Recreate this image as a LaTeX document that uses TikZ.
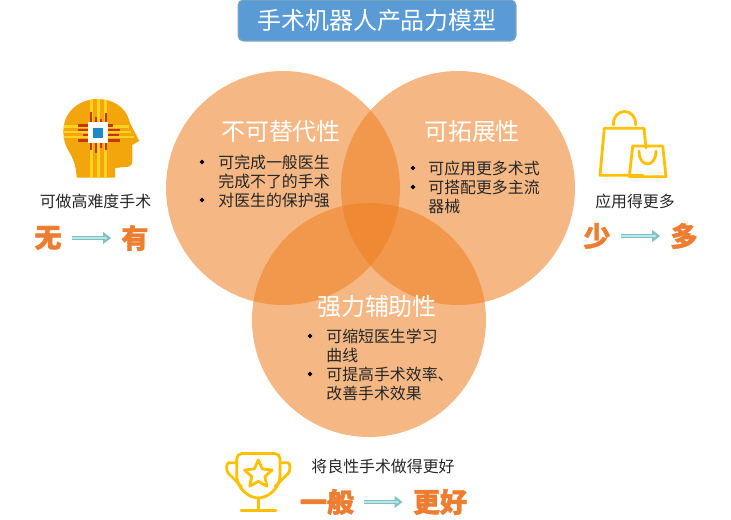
\documentclass[tikz,border=0pt]{standalone}
\usepackage{fontspec}
\setmainfont{Noto Sans CJK SC}
\newfontfamily\heavyfont[BoldFeatures={FakeBold=1.6}]{Noto Sans CJK SC}
\usetikzlibrary{arrows.meta,shapes.geometric}

\definecolor{titleblue}{HTML}{5B9BD5}
\definecolor{titleedge}{HTML}{7FA5B8}
\definecolor{vennorange}{HTML}{ED7D1F}
\definecolor{bigorange}{HTML}{ED7D31}
\definecolor{gold}{HTML}{FFC000}
\definecolor{headgold}{HTML}{F2A60C}
\definecolor{bandgold}{HTML}{FFD21F}
\definecolor{pinred}{HTML}{C8340F}
\definecolor{chipblue}{HTML}{1E88C8}
\definecolor{flowedge}{HTML}{7CC4C2}
\definecolor{flowfill}{HTML}{BFE4E4}
\definecolor{bodygray}{HTML}{262626}

\tikzset{
  venn/.style={fill=vennorange, fill opacity=0.55},
  heading/.style={text=white, font=\fontsize{13.65}{15}\selectfont},
  body/.style={anchor=west, inner sep=0pt, text=bodygray, font=\fontsize{9.05}{10}\selectfont},
  caption/.style={inner sep=0pt, text=bodygray, font=\fontsize{9.05}{10}\selectfont},
  big/.style={inner sep=0pt, text=bigorange, font=\fontsize{15.4}{17}\selectfont\heavyfont\bfseries},
  flow/.style={line width=2.8pt, draw=flowedge, shorten <=0.2cm, shorten >=0.2cm,
    -{Triangle[length=4.5pt,width=6.5pt,fill=flowfill]},
    postaction={draw=flowfill, line width=1.6pt, -, shorten >=0.3cm}},
  iconline/.style={draw=gold, line width=1.6pt, line join=round, line cap=round},
}

\begin{document}
\begin{tikzpicture}[x=0.02cm, y=-0.02cm]
  \useasboundingbox (0,0) rectangle (731,520);

  % Circles
  \fill[venn] (283,188) circle (117);
  \fill[venn] (458,188) circle (117);
  \fill[venn] (369,320) circle (117);

  % Title
  \node[draw=titleedge, fill=titleblue, rounded corners=3pt, line width=0.6pt,
        minimum width=5.56cm, minimum height=0.82cm, text=white,
        font=\fontsize{13.65}{15}\selectfont] (title) at (377,20.5) {手术机器人产品力模型};

  % Headings
  \node[heading] (irreplaceable) at (281,131) {不可替代性};
  \node[heading] (extensible)    at (472,131) {可拓展性};
  \node[heading] (assist)        at (377,306) {强力辅助性};

  % Left circle list
  \filldraw[black] (202,162) circle (1.9);
  \filldraw[black] (202,200) circle (1.9);
  \node[body] (irrA) at (218,162) {可完成一般医生};
  \node[body] (irrB) at (218,181) {完成不了的手术};
  \node[body] (irrC) at (218,200) {对医生的保护强};

  % Right circle list
  \filldraw[black] (413,168) circle (1.9);
  \filldraw[black] (413,187) circle (1.9);
  \node[body] (extA) at (428,168) {可应用更多术式};
  \node[body] (extB) at (428,187) {可搭配更多主流};
  \node[body] (extC) at (428,206) {器械};

  % Bottom circle list
  \filldraw[black] (310,336) circle (1.9);
  \filldraw[black] (310,374) circle (1.9);
  \node[body] (asA) at (326,336) {可缩短医生学习};
  \node[body] (asB) at (326,355) {曲线};
  \node[body] (asC) at (326,374) {可提高手术效率、};
  \node[body] (asD) at (326,393) {改善手术效果};

  % Head
  \fill[headgold] (76.7,177.7) .. controls (76,165) and (73,158) .. (68,150)
    .. controls (62,140) and (62,125) .. (67,116)
    .. controls (74,104) and (86,99) .. (97,99)
    .. controls (112,99) and (126,106) .. (130,123)
    -- (139.3,141) -- (132.3,145) -- (132.3,161)
    .. controls (132.3,166) and (129,167) .. (125,167)
    -- (115,168) -- (115,177.7) -- cycle;
  \draw[bandgold, line width=1.4pt]
    (91.5,100) -- (91.5,177.7) (98.5,99) -- (98.5,177.7) (105.5,100) -- (105.5,177.7)
    (63.5,126.7) -- (129,126.7) (63,132) -- (131,132) (63.5,137) -- (134,137);
  \draw[pinred, line width=1.7pt]
    (78,125.5) -- (90,125.5) (78,130) -- (90,130) (83,135) -- (90,135) (78,140.5) -- (90,140.5)
    (107,130) -- (120,130) (107,135) -- (119,135) (107,140.5) -- (120,140.5) (107,125.5) -- (113,125.5)
    (91,112) -- (91,123) (96,117) -- (96,123) (101,119) -- (101,123) (106,113) -- (106,123)
    (91,143) -- (91,150) (96,143) -- (96,153) (101,143) -- (101,148) (106,143) -- (106,150);
  \fill[white] (88.3,122.3) rectangle (108.3,143.3);
  \fill[chipblue] (93.3,127.7) rectangle (103.3,137.7);

  % Bags
  \draw[iconline] (646,148) -- (644,128.3) -- (604.3,128.3) -- (600,175.3) -- (643,175.3);
  \draw[iconline] (613.3,125) .. controls (613.3,107) and (635.7,107) .. (635.7,125);
  \draw[iconline] (632.7,146) -- (662.7,146) -- (666,176.7) -- (629.3,176.7) -- cycle;
  \draw[iconline] (639,151) .. controls (639,168.3) and (656,168.3) .. (656,151);

  % Trophy
  \draw[iconline, rounded corners=3pt] (236.7,476) -- (236.7,453.5) -- (280,453.5) -- (280,476);
  \draw[iconline] (280,476)
    .. controls (280,488) and (268,498) .. (258.3,498)
    .. controls (248.6,498) and (236.7,488) .. (236.7,476);
  \draw[iconline] (236.7,462.7) -- (229,462.7) .. controls (226,462.7) and (226,470) .. (228,473) -- (241.7,486.7);
  \draw[iconline] (280,462.7) -- (287.6,462.7) .. controls (290.6,462.7) and (290.6,470) .. (288.6,473) -- (275,486.7);
  \draw[iconline] (258.3,498) -- (258.3,510);
  \draw[iconline] (241,510.5) -- (276,510.5);
  \node[star, star points=5, star point ratio=2.1, draw=gold, line width=1.6pt, line join=round,
        minimum size=0.58cm, inner sep=0pt] (award) at (258.3,474.5) {};

  % Captions
  \node[caption] (hard) at (95.5,201) {可做高难度手术};
  \node[caption] (more) at (635,201) {应用得更多};
  \node[caption] (good) at (383,466) {将良性手术做得更好};

  % Changes
  \node[big] (none)   at (48,238)  {无};
  \node[big] (have)   at (135,238) {有};
  \node[big] (few)    at (597,236) {少};
  \node[big] (many)   at (684,236) {多};
  \node[big] (common) at (327,502) {一般};
  \node[big] (better) at (440,502) {更好};

  \draw[flow] (none) -- (have);
  \draw[flow] (few) -- (many);
  \draw[flow] (common) -- (better);
\end{tikzpicture}
\end{document}
